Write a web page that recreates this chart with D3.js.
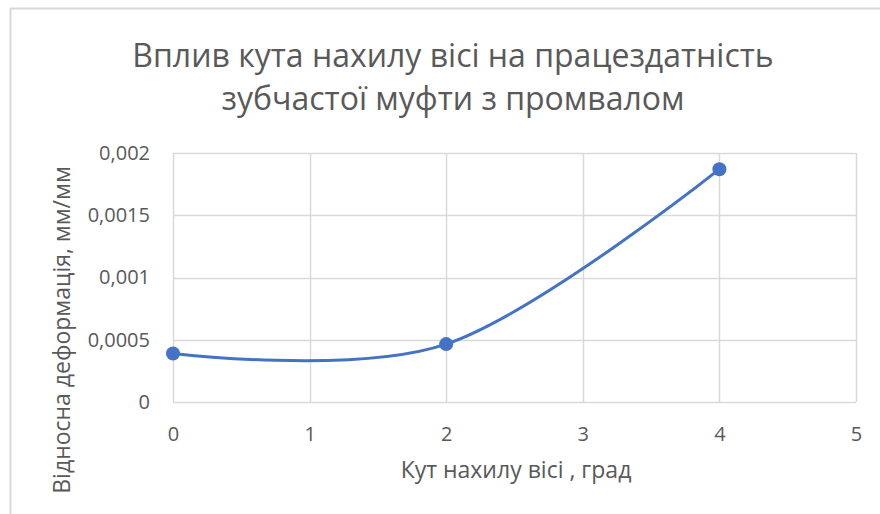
<!DOCTYPE html>
<html>
<head>
<meta charset="utf-8">
<script src="https://cdn.jsdelivr.net/npm/d3@7"></script>
<style>
  body { margin: 0; background: #fff; }
  svg { display: block; }
</style>
</head>
<body>
<div class="chart"></div>
<script>
// data
var angles = [0, 2, 4];
var strain = [0.00039, 0.000465, 0.00187];
var xTicks = [0, 1, 2, 3, 4, 5];
var yTicks = [0, 0.0005, 0.001, 0.0015, 0.002];
var titleLines = ["Вплив кута нахилу вісі на працездатність", "зубчастої муфти з промвалом"];
var xTitle = "Кут нахилу вісі , град";
var yTitle = "Відносна деформація, мм/мм";

var W = 880, H = 514;
var margin = { top: 153, right: 24, bottom: 112, left: 173 },
    width = 856 - margin.left,
    height = 402 - margin.top;

var svg = d3.select(".chart")
    .append("svg")
    .attr("width", W)
    .attr("height", H);

// chart frame
svg.append("rect")
    .attr("x", 10.5).attr("y", 8.5)
    .attr("width", W).attr("height", H)
    .attr("fill", "none")
    .attr("stroke", "#d9d9d9")
    .attr("stroke-width", 2);

var g = svg.append("g")
    .attr("transform", "translate(" + margin.left + "," + margin.top + ")");

var x = d3.scaleLinear().domain([0, 5]).range([0, width]);
var y = d3.scaleLinear().domain([0, 0.002]).range([height, 0]);

var fmt = function (d) { return d === 0 ? "0" : String(+d.toFixed(4)).replace(".", ","); };

// gridlines
g.append("g")
    .selectAll("line.h")
    .data(yTicks)
    .enter().append("line")
    .attr("x1", 0).attr("x2", width)
    .attr("y1", function (d) { return Math.round(y(d)) + 0.5; })
    .attr("y2", function (d) { return Math.round(y(d)) + 0.5; })
    .attr("stroke", "#d9d9d9")
    .attr("stroke-width", 1.5);
g.append("g")
    .selectAll("line.v")
    .data(xTicks)
    .enter().append("line")
    .attr("y1", 0).attr("y2", height)
    .attr("x1", function (d) { return Math.round(x(d)) + 0.5; })
    .attr("x2", function (d) { return Math.round(x(d)) + 0.5; })
    .attr("stroke", "#d9d9d9")
    .attr("stroke-width", 1.5);

// axes (labels only, Excel style)
var yAxis = g.append("g")
    .call(d3.axisLeft(y).tickValues(yTicks).tickFormat(fmt).tickSize(0).tickPadding(23));
var xAxis = g.append("g")
    .attr("transform", "translate(0," + height + ")")
    .call(d3.axisBottom(x).tickValues(xTicks).tickFormat(d3.format("d")).tickSize(0).tickPadding(25));
[yAxis, xAxis].forEach(function (a) {
    a.select(".domain").remove();
    a.selectAll("text")
        .attr("fill", "#595959")
        .style("font-family", "'Open Sans', sans-serif")
        .style("font-size", "20px");
});

// smoothed line
var pts = angles.map(function (a, i) { return [a, strain[i]]; });
var line = d3.line()
    .x(function (d) { return x(d[0]); })
    .y(function (d) { return y(d[1]); })
    .curve(d3.curveCatmullRom.alpha(0));
g.append("path")
    .datum(pts)
    .attr("fill", "none")
    .attr("stroke", "#4472c4")
    .attr("stroke-width", 3)
    .attr("d", line);
g.selectAll("circle")
    .data(pts)
    .enter().append("circle")
    .attr("cx", function (d) { return x(d[0]); })
    .attr("cy", function (d) { return y(d[1]); })
    .attr("r", 7)
    .attr("fill", "#4472c4");

// title
svg.append("g")
    .selectAll("text")
    .data(titleLines)
    .enter().append("text")
    .attr("x", 453)
    .attr("y", function (d, i) { return 67 + i * 43; })
    .attr("text-anchor", "middle")
    .attr("fill", "#595959")
    .style("font-family", "'Open Sans', sans-serif")
    .style("font-size", "32px")
    .text(function (d) { return d; });

// axis titles
svg.append("text")
    .attr("x", 516).attr("y", 478)
    .attr("text-anchor", "middle")
    .attr("fill", "#595959")
    .style("font-family", "'Open Sans', sans-serif")
    .style("font-size", "23px")
    .text(xTitle);
svg.append("text")
    .attr("transform", "translate(70,330) rotate(-90)")
    .attr("text-anchor", "middle")
    .attr("fill", "#595959")
    .style("font-family", "'Open Sans', sans-serif")
    .style("font-size", "23px")
    .text(yTitle);
</script>
</body>
</html>
